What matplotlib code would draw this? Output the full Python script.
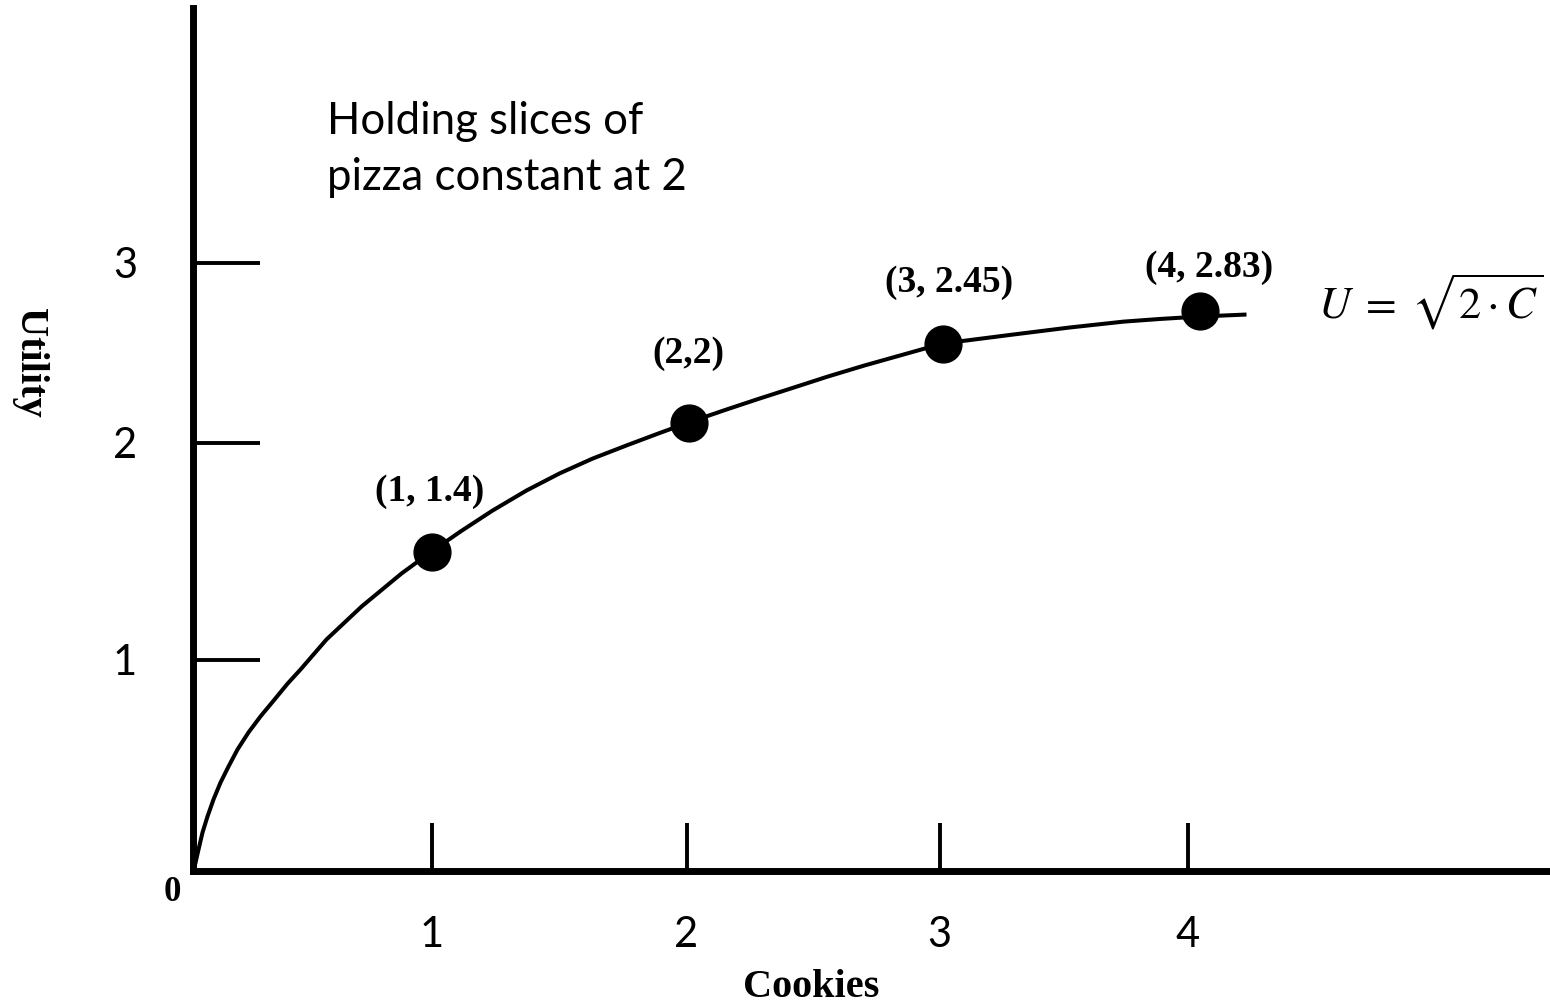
import matplotlib
matplotlib.use("Agg")
import matplotlib.pyplot as plt

# Utility curve (cookies, utility)
curve_x = [0.004, 0.024, 0.040, 0.060, 0.084, 0.112, 0.144, 0.180, 0.224,
           0.272, 0.328, 0.380, 0.432, 0.536, 0.676, 0.836, 0.956, 1.072,
           1.200, 1.336, 1.468, 1.600, 1.736, 1.868, 1.984, 2.136, 2.268,
           2.392, 2.540, 2.688, 2.844, 3.000, 3.280, 3.508, 3.724, 3.868,
           4.028, 4.216]
curve_y = [0.0, 0.108, 0.192, 0.271, 0.355, 0.438, 0.517, 0.601, 0.685,
           0.764, 0.847, 0.925, 0.995, 1.143, 1.305, 1.468, 1.576, 1.675,
           1.778, 1.877, 1.961, 2.034, 2.099, 2.160, 2.212, 2.276, 2.330,
           2.379, 2.438, 2.493, 2.547, 2.601, 2.645, 2.680, 2.709, 2.722,
           2.734, 2.744]

# Highlighted bundles as drawn, and their labels
pt_x = [0.956, 1.984, 3.0, 4.028]
pt_y = [1.576, 2.212, 2.601, 2.759]
pt_labels = ["(1, 1.4)", "(2,2)", "(3, 2.45)", "(4, 2.83)"]

# Axis ticks (positions as drawn) and labels
xtick_pos = [0.956, 1.976, 2.988, 3.98]
xtick_labels = ["1", "2", "3", "4"]
ytick_pos = [1.044, 2.113, 3.0]
ytick_labels = ["1", "2", "3"]

plt.rcParams["mathtext.fontset"] = "stix"
sans = ["Lato", "DejaVu Sans"]
serif = ["Liberation Serif", "DejaVu Serif"]

fig = plt.figure(figsize=(15.5, 10.07), dpi=100)
ax = fig.add_axes([0.1242, 0.1346, 0.8758, 0.8574])
ax.set_xlim(0, 5.43)
ax.set_ylim(0, 4.254)

for side in ["top", "right"]:
    ax.spines[side].set_visible(False)
for side in ["left", "bottom"]:
    ax.spines[side].set_linewidth(5)
    ax.spines[side].set_capstyle("projecting")

ax.plot(curve_x, curve_y, color="black", lw=2.9, solid_capstyle="butt",
        solid_joinstyle="round")
ax.plot(pt_x, pt_y, "o", color="black", ms=26.5, clip_on=False)

ax.set_xticks(xtick_pos, xtick_labels)
ax.set_yticks(ytick_pos, ytick_labels)
ax.tick_params(axis="x", direction="in", length=34.5, width=2.8, pad=32,
               labelsize=30)
ax.tick_params(axis="y", direction="in", length=48, width=2.8, pad=40,
               labelsize=30)
for lab in ax.get_xticklabels() + ax.get_yticklabels():
    lab.set_family(sans)

offsets = [(-1.5, 43), (0, 50), (5, 44), (7, 32)]
for x, y, txt, off in zip(pt_x, pt_y, pt_labels, offsets):
    ax.annotate(txt, xy=(x, y), xytext=off, textcoords="offset points",
                ha="center", va="center", family=serif, weight="bold",
                fontsize=27)

ax.annotate("0", xy=(0, 0), xytext=(-14.5, -15), textcoords="offset points",
            ha="center", va="center", family=serif, weight="bold",
            fontsize=25, annotation_clip=False)

ax.text(0.536, 3.798, "Holding slices of\npizza constant at 2", ha="left",
        va="top", family=sans, fontsize=31.5, linespacing=1.48)

ax.text(4.952, 2.808, r"$U\;=\;\sqrt{2\cdot C}$", ha="center", va="center",
        fontsize=32)

ax.set_xlabel("Cookies", family=serif, weight="bold", fontsize=29)
ax.xaxis.set_label_coords(0.456, -0.134)
ax.xaxis.label.set_verticalalignment("center")
ax.set_ylabel("Utility", family=serif, weight="bold", fontsize=29,
              rotation=270)
ax.yaxis.set_label_coords(-0.120, 0.589)
ax.yaxis.label.set_verticalalignment("center")
ax.yaxis.label.set_horizontalalignment("center")

fig.savefig("out.png", dpi=100)
